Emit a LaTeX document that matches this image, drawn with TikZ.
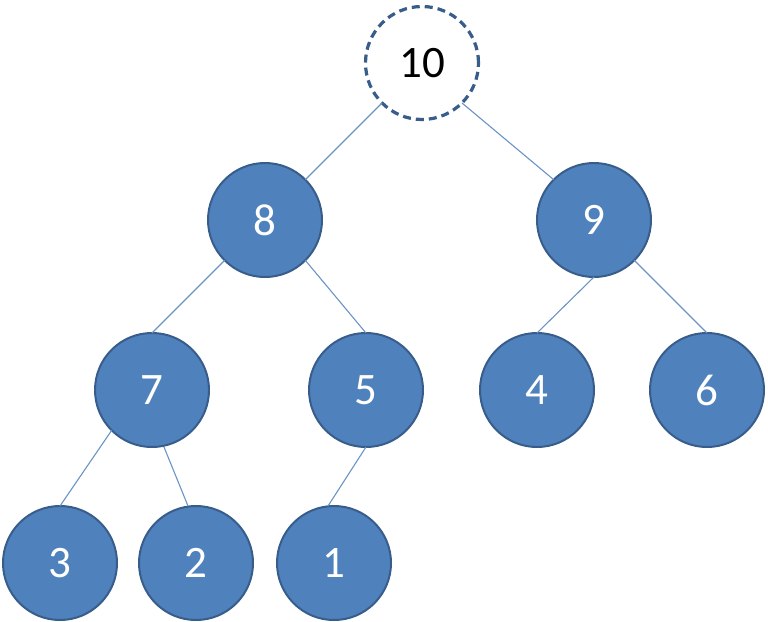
\documentclass[tikz,border=0pt]{standalone}
\usepackage{fontspec}
\setmainfont{Carlito}
\definecolor{nodefill}{HTML}{4F81BD}
\definecolor{nodeline}{HTML}{385D8A}
\definecolor{edgecol}{HTML}{6A93C6}
\begin{document}
\begin{tikzpicture}[x=1pt,y=-1pt,
  heapnode/.style={circle, minimum size=114pt, inner sep=0pt, outer sep=0pt,
    fill=nodefill, draw=nodeline, line width=2pt, text=white,
    font=\fontsize{45}{54}\selectfont},
  rootnode/.style={circle, minimum size=113pt, inner sep=0pt, outer sep=0pt,
    fill=white, draw=nodeline, line width=3.2pt, dash pattern=on 8pt off 5pt,
    text=black, font=\fontsize{45}{54}\selectfont},
  edge/.style={draw=edgecol, line width=1.1pt}]
\useasboundingbox (0,0) rectangle (768,621);
\node[rootnode] (n10) at (422,63) {10};
\node[heapnode] (n8) at (265,220) {8};
\node[heapnode] (n9) at (594,220) {9};
\node[heapnode] (n7) at (152,390) {7};
\node[heapnode] (n5) at (366,390) {5};
\node[heapnode] (n4) at (537,390) {4};
\node[heapnode] (n6) at (707,390) {6};
\node[heapnode] (n3) at (60,563) {3};
\node[heapnode] (n2) at (196,563) {2};
\node[heapnode] (n1) at (334,563) {1};
\draw[edge] (n10.south west) -- (n8.north east);
\draw[edge] (n10.south east) -- (n9.north west);
\draw[edge] (n8.south west) -- (n7.north);
\draw[edge] (n8.south east) -- (n5.north);
\draw[edge] (n9.south) -- (n4.north);
\draw[edge] (n9.south east) -- (n6.north);
\draw[edge] (n7.south west) -- (n3.north);
\draw[edge] ([xshift=12pt]n7.south) -- ([xshift=-8pt]n2.north);
\draw[edge] (n5.south) -- ([xshift=-6pt]n1.north);
\end{tikzpicture}
\end{document}
